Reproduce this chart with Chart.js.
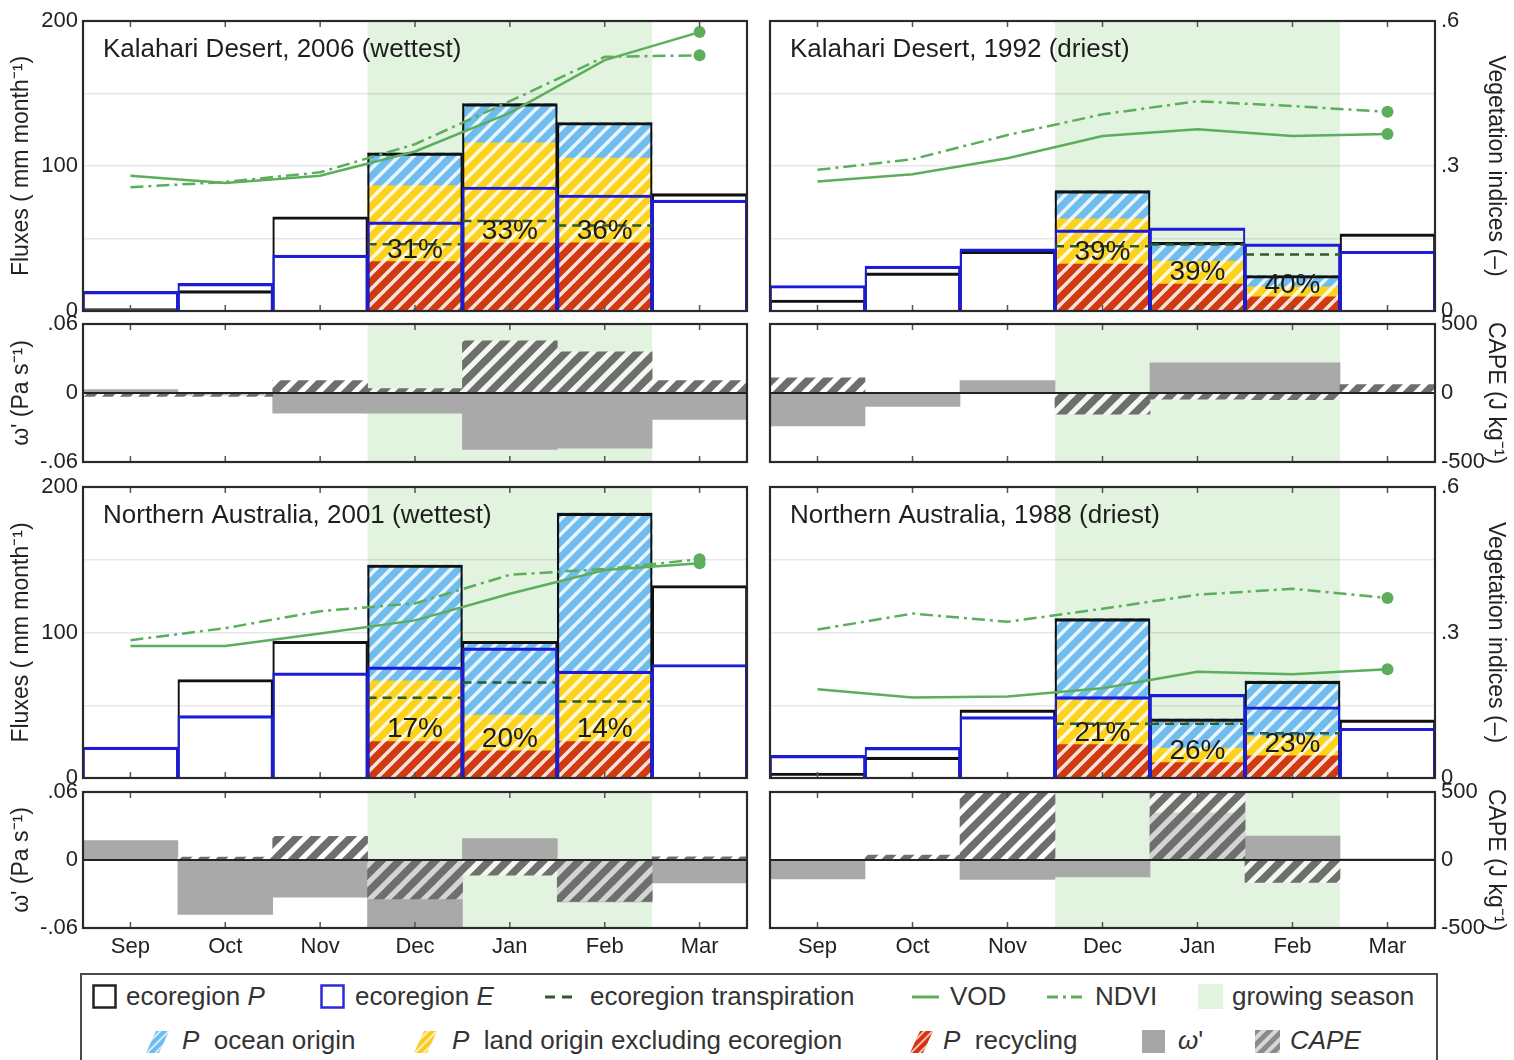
<!DOCTYPE html>
<html>
<head>
<meta charset="utf-8">
<script src="https://cdn.jsdelivr.net/npm/chart.js@4.4.1/dist/chart.umd.min.js"></script>
<style>
  html, body { margin: 0; padding: 0; background: #fff; }
  #wrap { position: relative; width: 1514px; height: 1060px; overflow: hidden;
          font-family: 'Liberation Sans', Arial, Helvetica, sans-serif; }
  #wrap canvas { position: absolute; left: 0; top: 0; }
  #legend { position: absolute; left: 80px; top: 973px; width: 1358px; height: 110px;
            border: 2px solid #4a4a4a; box-sizing: border-box; background: #fff; }
  .it { position: absolute; font-size: 26px; line-height: 30px; color: #333; white-space: nowrap; }
  .sw { position: absolute; }
  i { font-style: italic; }
</style>
</head>
<body>
<div id="wrap">
  <div id="legend">
    <svg class="sw" style="left:10px;top:9px" width="26" height="26"><rect x="1.5" y="1.5" width="22" height="22" fill="none" stroke="#222" stroke-width="2.5"/></svg>
    <div class="it" style="left:44px;top:6px">ecoregion <i>P</i></div>
    <svg class="sw" style="left:238px;top:9px" width="26" height="26"><rect x="1.5" y="1.5" width="22" height="22" fill="none" stroke="#2a2ad8" stroke-width="2.5"/></svg>
    <div class="it" style="left:273px;top:6px">ecoregion <i>E</i></div>
    <svg class="sw" style="left:463px;top:12px" width="34" height="20"><line x1="0" y1="10" x2="32" y2="10" stroke="#2e5a2e" stroke-width="3" stroke-dasharray="10,7"/></svg>
    <div class="it" style="left:508px;top:6px">ecoregion transpiration</div>
    <svg class="sw" style="left:830px;top:12px" width="30" height="20"><line x1="0" y1="10" x2="27" y2="10" stroke="#5cae5c" stroke-width="3"/></svg>
    <div class="it" style="left:868px;top:6px">VOD</div>
    <svg class="sw" style="left:965px;top:12px" width="40" height="20"><line x1="0" y1="10" x2="37" y2="10" stroke="#5cae5c" stroke-width="3" stroke-dasharray="11,5,3,5"/></svg>
    <div class="it" style="left:1013px;top:6px">NDVI</div>
    <svg class="sw" style="left:1116px;top:9px" width="26" height="26"><rect x="0" y="0" width="25" height="25" fill="#e2f3df"/></svg>
    <div class="it" style="left:1150px;top:6px">growing season</div>

    <svg class="sw" style="left:62px;top:54px" width="28" height="26">
      <defs>
        <pattern id="hw" width="6" height="6" patternUnits="userSpaceOnUse" patternTransform="rotate(45)"><rect width="2" height="6" fill="rgba(255,255,255,0.7)"/></pattern>
      </defs>
      <polygon points="2,24 12,2 25,2 15,24" fill="#6cbcef"/><polygon points="2,24 12,2 25,2 15,24" fill="url(#hw)"/></svg>
    <div class="it" style="left:100px;top:50px"><i>P</i>&nbsp; ocean origin</div>
    <svg class="sw" style="left:330px;top:54px" width="28" height="26"><polygon points="2,24 12,2 25,2 15,24" fill="#f7cd1f"/><polygon points="2,24 12,2 25,2 15,24" fill="url(#hw)"/></svg>
    <div class="it" style="left:370px;top:50px"><i>P</i>&nbsp; land origin excluding ecoregion</div>
    <svg class="sw" style="left:826px;top:54px" width="28" height="26"><polygon points="2,24 12,2 25,2 15,24" fill="#d3310f"/><polygon points="2,24 12,2 25,2 15,24" fill="url(#hw)"/></svg>
    <div class="it" style="left:861px;top:50px"><i>P</i>&nbsp; recycling</div>
    <svg class="sw" style="left:1060px;top:54px" width="26" height="26"><rect x="0" y="1" width="23" height="23" fill="#a6a6a6"/></svg>
    <div class="it" style="left:1096px;top:50px"><i>ω</i>'</div>
    <svg class="sw" style="left:1173px;top:54px" width="28" height="26">
      <defs>
        <pattern id="hg" width="9" height="9" patternUnits="userSpaceOnUse" patternTransform="rotate(45)"><rect width="5" height="9" fill="#8a8a8a"/><rect x="5" width="4" height="9" fill="#d8d8d8"/></pattern>
      </defs>
      <rect x="0" y="1" width="25" height="23" fill="url(#hg)"/></svg>
    <div class="it" style="left:1208px;top:50px"><i>CAPE</i></div>
  </div>
</div>

<script>
// ---- Shared categories and tick labels ----
const months = ['Sep', 'Oct', 'Nov', 'Dec', 'Jan', 'Feb', 'Mar'];
const growingSeason = ['Dec', 'Feb'];
const fluxTickLabels = ['0', '100', '200'];
const vegTickLabels = ['0', '.3', '.6'];
const omegaTickLabels = ['-.06', '0', '.06'];
const capeTickLabels = ['-500', '0', '500'];

// ---- Kalahari Desert, 2006 (wettest) ----
const kal06Title = 'Kalahari Desert, 2006 (wettest)';
const kal06P      = [1.6, 14, 65, 109, 143, 130, 81];
const kal06E      = [13.5, 19, 38.5, 61.5, 85.5, 80, 76.5];
const kal06Transp = [null, null, null, 46, 62, 59, null];
const kal06Recyc  = [null, null, null, 34, 47, 47, null];
const kal06Land   = [null, null, null, 52.5, 69, 58.5, null];
const kal06Ocean  = [null, null, null, 22.5, 27, 24.5, null];
const kal06VOD    = [0.28, 0.265, 0.28, 0.33, 0.41, 0.519, 0.577];
const kal06NDVI   = [0.256, 0.267, 0.287, 0.345, 0.434, 0.526, 0.529];
const kal06Omega  = [0.003, -0.002, -0.0176, -0.0176, -0.049, -0.048, -0.023];
const kal06CAPE   = [-25, -25, 90, 32, 378, 298, 90];

// ---- Kalahari Desert, 1992 (driest) ----
const kal92Title = 'Kalahari Desert, 1992 (driest)';
const kal92P      = [7.6, 26.3, 41.2, 83, 47.4, 24.5, 53.2];
const kal92E      = [17.6, 30.9, 42.8, 56, 57.3, 46.3, 41.2];
const kal92Transp = [null, null, null, 44.7, 45.8, 38.9, null];
const kal92Recyc  = [null, null, null, 32.3, 18.5, 9.8, null];
const kal92Land   = [null, null, null, 31.2, 15.9, 6.9, null];
const kal92Ocean  = [null, null, null, 19.5, 13, 7.8, null];
const kal92VOD    = [0.268, 0.283, 0.316, 0.362, 0.376, 0.362, 0.366];
const kal92NDVI   = [0.292, 0.314, 0.364, 0.407, 0.434, 0.424, 0.412];
const kal92Omega  = [-0.0287, -0.0117, 0.0108, 0, 0.0263, 0.0263, 0];
const kal92CAPE   = [110, 0, 0, -154, -44, -49, 61];

// ---- Northern Australia, 2001 (wettest) ----
const aus01Title = 'Northern Australia, 2001 (wettest)';
const aus01P      = [0.5, 67.7, 94, 146.4, 94, 182, 132.3];
const aus01E      = [21.2, 42.9, 72.3, 76.4, 89.4, 73.4, 78];
const aus01Transp = [null, null, null, 55.2, 65.7, 52.5, null];
const aus01Recyc  = [null, null, null, 25.1, 18.7, 25.1, null];
const aus01Land   = [null, null, null, 41.7, 24.6, 47.9, null];
const aus01Ocean  = [null, null, null, 79.6, 50.7, 109, null];
const aus01VOD    = [0.272, 0.272, 0.298, 0.325, 0.38, 0.429, 0.443];
const aus01NDVI   = [0.284, 0.309, 0.344, 0.36, 0.419, 0.431, 0.451];
const aus01Omega  = [0.0171, -0.048, -0.0328, -0.062, 0.0189, -0.037, -0.0203];
const aus01CAPE   = [0, 22, 174, -286, -111, -305, 24];

// ---- Northern Australia, 1988 (driest) ----
const aus88Title = 'Northern Australia, 1988 (driest)';
const aus88P      = [3.4, 14.4, 46.8, 109.5, 40.6, 66.6, 39.9];
const aus88E      = [15.5, 21, 42.2, 55.9, 57.5, 49, 34.2];
const aus88Transp = [null, null, null, 37.2, 37.2, 30.8, null];
const aus88Recyc  = [null, null, null, 23, 10.6, 15.3, null];
const aus88Land   = [null, null, null, 30.6, 9.9, 13.2, null];
const aus88Ocean  = [null, null, null, 55.9, 20.1, 38.1, null];
const aus88VOD    = [0.183, 0.166, 0.168, 0.185, 0.219, 0.214, 0.224];
const aus88NDVI   = [0.306, 0.339, 0.322, 0.349, 0.378, 0.39, 0.371];
const aus88Omega  = [-0.0166, 0, -0.0171, -0.015, 0.0416, 0.0212, 0.001];
const aus88CAPE   = [0, 36, 500, 0, 500, -165, 0];

// ---- Styling ----
const W = 1514, H = 1060;
const GREEN = '#5cae5c';
const SEASON = '#e2f3df';
const COLS = { left: { l: 83, r: 747 }, right: { l: 770, r: 1435 } };
const ROWS = [ { flux: [21, 311], omega: [324, 462] }, { flux: [487, 778], omega: [792, 928] } ];

Chart.defaults.font.family = "'Liberation Sans', Arial, Helvetica, sans-serif";
Chart.defaults.color = '#222';

function hatch(bg, fg, period, width) {
  const c = document.createElement('canvas');
  c.width = c.height = period;
  const g = c.getContext('2d');
  if (bg) { g.fillStyle = bg; g.fillRect(0, 0, period, period); }
  g.strokeStyle = fg; g.lineWidth = width; g.lineCap = 'square';
  g.beginPath();
  for (const o of [-period, 0, period]) { g.moveTo(o, period); g.lineTo(o + period, 0); }
  g.stroke();
  return g.createPattern(c, 'repeat');
}
const HATCH_REC   = hatch('#cf3a10', 'rgba(255,255,255,0.85)', 15, 3.6);
const HATCH_LAND  = hatch('#fbd21c', 'rgba(255,255,255,0.85)', 15, 3.6);
const HATCH_OCEAN = hatch('#6fbcee', 'rgba(255,255,255,0.85)', 15, 3.6);
const HATCH_CAPE  = hatch('rgba(255,255,255,0.5)', '#6e6e6e', 18, 7.5);

// Panel decorations: growing-season band, frame, inner ticks, zero line, titles, percentages
const decor = {
  id: 'decor',
  beforeDraw(chart, args, o) {
    const { ctx, chartArea: a, scales: { x } } = chart;
    const x0 = x.getPixelForValue(months.indexOf(growingSeason[0]) + 0.5);
    const x1 = x.getPixelForValue(months.indexOf(growingSeason[1]) + 1.5);
    ctx.save();
    ctx.fillStyle = SEASON;
    ctx.fillRect(x0, a.top, x1 - x0, a.bottom - a.top);
    ctx.restore();
  },
  afterDatasetsDraw(chart, args, o) {
    const { ctx, chartArea: a, scales: { x, y } } = chart;
    ctx.save();
    if (o.zero) {
      const y0 = y.getPixelForValue(0);
      ctx.strokeStyle = '#222'; ctx.lineWidth = 2;
      ctx.beginPath(); ctx.moveTo(a.left, y0); ctx.lineTo(a.right, y0); ctx.stroke();
    }
    if (o.rec) {
      ctx.font = "28px 'Liberation Sans', Arial, sans-serif";
      ctx.fillStyle = '#1b1b1b'; ctx.textAlign = 'center'; ctx.textBaseline = 'alphabetic';
      o.rec.forEach((r, i) => {
        if (r == null) return;
        const pct = Math.round(r / o.P[i] * 100) + '%';
        ctx.fillText(pct, x.getPixelForValue(i + 1), y.getPixelForValue(r) - 4);
      });
    }
    if (o.title) {
      ctx.font = "26px 'Liberation Sans', Arial, sans-serif";
      ctx.fillStyle = '#1e1e1e'; ctx.textAlign = 'left'; ctx.textBaseline = 'middle';
      ctx.fillText(o.title, a.left + 20, a.top + 29);
    }
    // inner tick marks at month centres
    ctx.strokeStyle = '#555'; ctx.lineWidth = 1.5;
    ctx.beginPath();
    months.forEach((m, i) => {
      const px = x.getPixelForValue(i + 1);
      ctx.moveTo(px, a.top); ctx.lineTo(px, a.top + 6);
      ctx.moveTo(px, a.bottom); ctx.lineTo(px, a.bottom - 6);
    });
    ctx.stroke();
    ctx.strokeStyle = '#2a2a2a'; ctx.lineWidth = 2.2;
    ctx.strokeRect(a.left, a.top, a.right - a.left, a.bottom - a.top);
    ctx.restore();
  }
};
Chart.register(decor);

function addCanvas() {
  const c = document.createElement('canvas');
  c.width = W; c.height = H;
  document.getElementById('wrap').insertBefore(c, document.getElementById('legend'));
  return c;
}
const xy = arr => arr.map((v, i) => ({ x: i + 1, y: v }));
const segs = arr => {
  const out = [];
  arr.forEach((v, i) => {
    if (v == null) return;
    if (out.length) out.push({ x: i + 0.5, y: null });
    out.push({ x: i + 0.5, y: v }, { x: i + 1.5, y: v });
  });
  return out;
};
const monthTicks = s => { s.ticks = months.map((m, i) => ({ value: i + 1 })); };
const outline = { top: 2.5, left: 1.5, right: 1.5, bottom: 0 };

function fluxChart(p, col, row) {
  const left = col === 'left';
  const [top, bottom] = ROWS[row].flux;
  const last = p.vod.length - 1;
  const gridCol = 'rgba(0,0,0,0.09)';
  new Chart(addCanvas(), {
    type: 'bar',
    data: {
      datasets: [
        { type: 'line', label: 'VOD', yAxisID: 'y2', data: xy(p.vod), borderColor: GREEN, borderWidth: 2.5,
          pointRadius: p.vod.map((v, i) => i === last ? 6 : 0), pointBackgroundColor: GREEN, pointBorderWidth: 0, order: 0 },
        { type: 'line', label: 'NDVI', yAxisID: 'y2', data: xy(p.ndvi), borderColor: GREEN, borderWidth: 2.5,
          borderDash: [13, 5, 3, 5], pointRadius: p.ndvi.map((v, i) => i === last ? 6 : 0),
          pointBackgroundColor: GREEN, pointBorderWidth: 0, order: 0 },
        { type: 'line', label: 'ecoregion transpiration', yAxisID: 'y', stack: 'T', data: segs(p.transp),
          borderColor: '#2e5a2e', borderWidth: 2.5, borderDash: [9, 6], pointRadius: 0, order: 0 },
        { label: 'ecoregion E', stack: 'E', data: xy(p.E), backgroundColor: 'rgba(0,0,0,0)',
          borderColor: '#1c1cd8', borderWidth: outline, order: 1 },
        { label: 'ecoregion P', stack: 'P', data: xy(p.P), backgroundColor: 'rgba(0,0,0,0)',
          borderColor: '#111', borderWidth: outline, order: 2 },
        { label: 'P recycling', stack: 'src', data: xy(p.rec), backgroundColor: HATCH_REC, borderWidth: 0, order: 5 },
        { label: 'P land origin', stack: 'src', data: xy(p.land), backgroundColor: HATCH_LAND, borderWidth: 0, order: 5 },
        { label: 'P ocean origin', stack: 'src', data: xy(p.ocean), backgroundColor: HATCH_OCEAN, borderWidth: 0, order: 5 }
      ]
    },
    options: {
      responsive: false, animation: false, events: [],
      datasets: { bar: { grouped: false, barPercentage: 1, categoryPercentage: 1 } },
      layout: { padding: { left: left ? 0 : COLS.right.l, right: left ? W - COLS.left.r : 0, top, bottom: H - bottom } },
      plugins: { legend: { display: false }, tooltip: { enabled: false },
                 decor: { title: p.title, rec: p.rec, P: p.P, zero: false } },
      scales: {
        x: { type: 'linear', min: 0.5, max: 7.5, offset: false, display: false, afterBuildTicks: monthTicks },
        y: { stacked: true, min: 0, max: 200, display: left,
             afterFit: s => { if (left) s.width = COLS.left.l; },
             border: { display: false },
             grid: { color: gridCol, lineWidth: 1.5, drawTicks: false },
             ticks: { stepSize: 50, padding: 5, font: { size: 22 }, color: '#222',
                      callback: v => v % 100 === 0 ? fluxTickLabels[v / 100] : '' },
             title: { display: true, text: 'Fluxes ( mm month⁻¹)', font: { size: 23 }, color: '#222',
                      padding: { top: 8, bottom: 0 } } },
        y2: { position: 'right', min: 0, max: 0.6, display: !left,
              afterFit: s => { if (!left) s.width = W - COLS.right.r; },
              border: { display: false },
              grid: { color: gridCol, lineWidth: 1.5, drawTicks: false },
              ticks: { stepSize: 0.15, padding: 6, font: { size: 22 }, color: '#222',
                       callback: v => { const k = Math.round(v / 0.15); return k % 2 ? '' : vegTickLabels[k / 2]; } },
              title: { display: true, text: 'Vegetation indices (–)', font: { size: 23 }, color: '#222',
                       padding: { top: 5, bottom: 0 } } }
      }
    }
  });
}

function omegaChart(p, col, row) {
  const left = col === 'left';
  const [top, bottom] = ROWS[row].omega;
  const showX = row === 1;
  new Chart(addCanvas(), {
    type: 'bar',
    data: {
      datasets: [
        { label: 'CAPE', yAxisID: 'y2', data: xy(p.cape), backgroundColor: HATCH_CAPE, borderWidth: 0, order: 1 },
        { label: "ω'", yAxisID: 'y', data: xy(p.omega), backgroundColor: '#a9a9a9', borderWidth: 0, order: 2 }
      ]
    },
    options: {
      responsive: false, animation: false, events: [],
      datasets: { bar: { grouped: false, barPercentage: 1, categoryPercentage: 1 } },
      layout: { padding: { left: left ? 0 : COLS.right.l, right: left ? W - COLS.left.r : 0, top,
                           bottom: H - bottom - (showX ? 40 : 0) } },
      plugins: { legend: { display: false }, tooltip: { enabled: false }, decor: { zero: true } },
      scales: {
        x: { type: 'linear', min: 0.5, max: 7.5, offset: false, display: showX, afterBuildTicks: monthTicks,
             afterFit: s => { if (showX) s.height = 40; },
             border: { display: false }, grid: { display: false, drawTicks: false, offset: false },
             ticks: { padding: 6, font: { size: 22 }, color: '#222', maxRotation: 0, autoSkip: false,
                      callback: v => months[v - 1] } },
        y: { min: -0.06, max: 0.06, display: left,
             afterFit: s => { if (left) s.width = COLS.left.l; },
             border: { display: false }, grid: { display: false, drawTicks: false },
             ticks: { stepSize: 0.06, padding: 5, font: { size: 22 }, color: '#222',
                      callback: v => omegaTickLabels[Math.round(v / 0.06) + 1] },
             title: { display: true, text: "ω' (Pa s⁻¹)", font: { size: 23 }, color: '#222',
                      padding: { top: 8, bottom: 0 } } },
        y2: { position: 'right', min: -500, max: 500, display: !left,
              afterFit: s => { if (!left) s.width = W - COLS.right.r; },
              border: { display: false }, grid: { display: false, drawTicks: false },
              ticks: { stepSize: 500, padding: 6, font: { size: 22 }, color: '#222',
                       callback: v => capeTickLabels[Math.round(v / 500) + 1] },
              title: { display: true, text: 'CAPE (J kg⁻¹)', font: { size: 23 }, color: '#222',
                       padding: { top: 5, bottom: 0 } } }
      }
    }
  });
}

const panels = [
  { col: 'left', row: 0, title: kal06Title, P: kal06P, E: kal06E, transp: kal06Transp, rec: kal06Recyc,
    land: kal06Land, ocean: kal06Ocean, vod: kal06VOD, ndvi: kal06NDVI, omega: kal06Omega, cape: kal06CAPE },
  { col: 'right', row: 0, title: kal92Title, P: kal92P, E: kal92E, transp: kal92Transp, rec: kal92Recyc,
    land: kal92Land, ocean: kal92Ocean, vod: kal92VOD, ndvi: kal92NDVI, omega: kal92Omega, cape: kal92CAPE },
  { col: 'left', row: 1, title: aus01Title, P: aus01P, E: aus01E, transp: aus01Transp, rec: aus01Recyc,
    land: aus01Land, ocean: aus01Ocean, vod: aus01VOD, ndvi: aus01NDVI, omega: aus01Omega, cape: aus01CAPE },
  { col: 'right', row: 1, title: aus88Title, P: aus88P, E: aus88E, transp: aus88Transp, rec: aus88Recyc,
    land: aus88Land, ocean: aus88Ocean, vod: aus88VOD, ndvi: aus88NDVI, omega: aus88Omega, cape: aus88CAPE }
];

panels.forEach(p => {
  fluxChart(p, p.col, p.row);
  omegaChart(p, p.col, p.row);
});
</script>
</body>
</html>
